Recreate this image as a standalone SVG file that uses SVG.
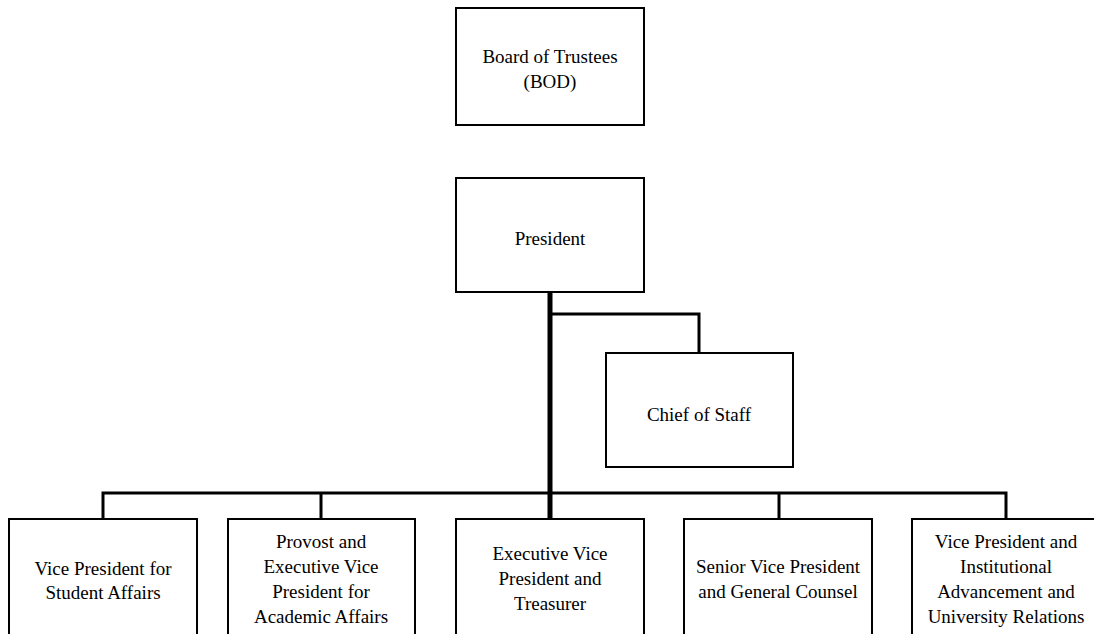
<svg xmlns="http://www.w3.org/2000/svg" width="1094" height="634" viewBox="0 0 1094 634">
<style>
.box{fill:#fff;stroke:#000;stroke-width:2}
.t{font-family:"Liberation Serif","Times New Roman",serif;font-size:19px;fill:#000;text-anchor:middle}
.c{fill:none;stroke:#000;stroke-width:3;stroke-linejoin:miter}
.m{fill:none;stroke:#000;stroke-width:5}
</style>
<rect width="1094" height="634" fill="#fff"/>
<g id="connectors">
<path class="m" d="M550 292 V519"/>
<path class="c" d="M550 314 H699 V353"/>
<path class="c" d="M103 519 V493 H1006 V519"/>
<path class="c" d="M321 493 V519 M779 493 V519"/>
</g>
<g id="board">
<rect class="box" x="456" y="8" width="188" height="117"/>
<text class="t" x="550" y="63">Board of Trustees</text>
<text class="t" x="550" y="88">(BOD)</text>
</g>
<g id="president">
<rect class="box" x="456" y="178" width="188" height="114"/>
<text class="t" x="550" y="245">President</text>
</g>
<g id="chief">
<rect class="box" x="606" y="353" width="187" height="114"/>
<text class="t" x="699" y="421">Chief of Staff</text>
</g>
<g id="vp-student">
<rect class="box" x="9" y="519" width="188" height="125" stroke-width="3"/>
<text class="t" x="103" y="575">Vice President for</text>
<text class="t" x="103" y="599">Student Affairs</text>
</g>
<g id="provost">
<rect class="box" x="228" y="519" width="187" height="125" stroke-width="3"/>
<text class="t" x="321" y="548">Provost and</text>
<text class="t" x="321" y="573">Executive Vice</text>
<text class="t" x="321" y="598">President for</text>
<text class="t" x="321" y="623">Academic Affairs</text>
</g>
<g id="evp-treasurer">
<rect class="box" x="456" y="519" width="188" height="125"/>
<text class="t" x="550" y="560">Executive Vice</text>
<text class="t" x="550" y="585">President and</text>
<text class="t" x="550" y="610">Treasurer</text>
</g>
<g id="svp-counsel">
<rect class="box" x="684" y="519" width="188" height="125"/>
<text class="t" x="778" y="573">Senior Vice President</text>
<text class="t" x="778" y="598">and General Counsel</text>
</g>
<g id="vp-advancement">
<rect class="box" x="912" y="519" width="188" height="125"/>
<text class="t" x="1006" y="548">Vice President and</text>
<text class="t" x="1006" y="573">Institutional</text>
<text class="t" x="1006" y="598">Advancement and</text>
<text class="t" x="1006" y="623">University Relations</text>
</g>
</svg>
